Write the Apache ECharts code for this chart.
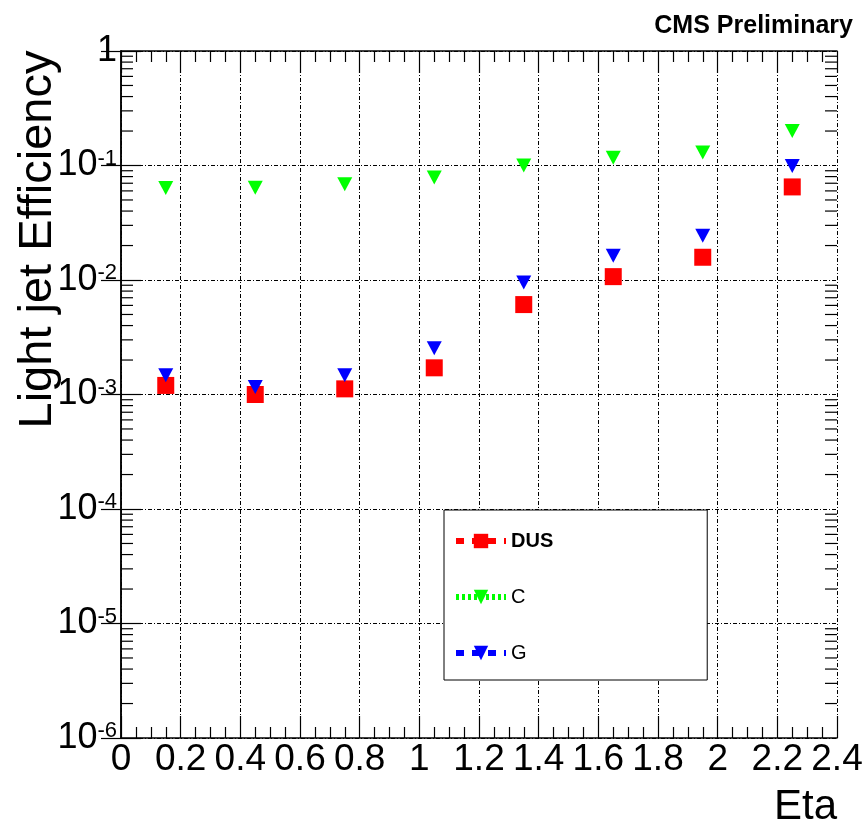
<!DOCTYPE html>
<html>
<head>
<meta charset="utf-8">
<script src="https://cdn.jsdelivr.net/npm/echarts@6/dist/echarts.min.js"></script>
<style>
html,body{margin:0;padding:0;background:#fff;}
#chart{width:867px;height:834px;}
</style>
</head>
<body>
<div id="chart"></div>
<script>
// ---- data ----
const etaBins = [0.15, 0.45, 0.75, 1.05, 1.35, 1.65, 1.95, 2.25];
const dusEff = [1.2e-3, 1.0e-3, 1.12e-3, 1.71e-3, 6.1e-3, 1.07e-2, 1.58e-2, 6.5e-2];
const cEff   = [6.35e-2, 6.4e-2, 6.87e-2, 7.85e-2, 1.0e-1, 1.17e-1, 1.30e-1, 2.0e-1];
const gEff   = [1.47e-3, 1.16e-3, 1.47e-3, 2.53e-3, 9.5e-3, 1.63e-2, 2.44e-2, 9.9e-2];
const seriesNames = ['DUS', 'C', 'G'];
const xTicks = [0, 0.2, 0.4, 0.6, 0.8, 1, 1.2, 1.4, 1.6, 1.8, 2, 2.2, 2.4];
const yDecades = [-6, -5, -4, -3, -2, -1, 0];
const minorMultipliers = [2, 3, 4, 5, 6, 7, 8, 9];

const FONT = 'Liberation Sans, Arial, Helvetica, sans-serif';

const pairs = (xs, ys) => xs.map((x, i) => [x, ys[i]]);
const minorTickData = [];
yDecades.slice(0, -1).forEach(d => minorMultipliers.forEach(m => minorTickData.push([0, m * Math.pow(10, d)])));

const gridLine = { show: true, lineStyle: { color: '#000', width: 1, type: [4, 2, 1, 2] } };

function yLabel(v) {
  const e = Math.round(Math.log10(v));
  if (e === 0) return '{a|1}';
  return '{a|10}{b|' + e + '}';
}

const chart = echarts.init(document.getElementById('chart'), null, { renderer: 'canvas' });
chart.setOption({
  animation: false,
  backgroundColor: '#fff',
  title: {
    text: 'CMS Preliminary',
    right: 9, top: 9,
    textStyle: { fontFamily: FONT, fontSize: 25, fontWeight: 'bold', color: '#000' }
  },
  grid: { left: 121, right: 30, top: 51, bottom: 96, containLabel: false, outerBoundsMode: 'none' },
  xAxis: [{
    type: 'value', min: 0, max: 2.4, interval: 0.2,
    name: 'Eta', nameLocation: 'end', nameGap: 0, nameMoveOverlap: false,
    nameTextStyle: { fontFamily: FONT, fontSize: 42, color: '#000', align: 'right', verticalAlign: 'top', padding: [48, 0, 0, 0] },
    axisLine: { show: true, lineStyle: { color: '#000', width: 1.5 } },
    axisTick: { show: true, inside: true, length: 22, lineStyle: { color: '#000', width: 1.2 } },
    minorTick: { show: true, splitNumber: 4, length: 11, lineStyle: { color: '#000', width: 1.2 } },
    axisLabel: {
      fontFamily: FONT, fontSize: 37, color: '#000', margin: 3, hideOverlap: false,
      formatter: v => String(parseFloat(v.toFixed(1)))
    },
    splitLine: gridLine
  }, {
    type: 'value', min: 0, max: 2.4, interval: 0.2, position: 'top',
    axisLine: { show: true, lineStyle: { color: '#000', width: 1.5 } },
    axisTick: { show: true, inside: true, length: 22, lineStyle: { color: '#000', width: 1.2 } },
    minorTick: { show: true, splitNumber: 4, length: 11, lineStyle: { color: '#000', width: 1.2 } },
    axisLabel: { show: false },
    splitLine: { show: false }
  }],
  yAxis: [{
    type: 'log', logBase: 10, min: 1e-6, max: 1, splitNumber: 6,
    name: 'Light jet Efficiency', nameLocation: 'middle', nameGap: 59, nameMoveOverlap: false,
    nameTextStyle: { fontFamily: FONT, fontSize: 47, color: '#000', padding: [0, 0, 0, 310] },
    axisLine: { show: true, lineStyle: { color: '#000', width: 1.5 } },
    axisTick: { show: true, inside: true, length: 20, lineStyle: { color: '#000', width: 1.2 } },
    axisLabel: {
      margin: 4, formatter: yLabel,
      rich: {
        a: { fontFamily: FONT, fontSize: 36, color: '#000', lineHeight: 36 },
        b: { fontFamily: FONT, fontSize: 22, color: '#000', verticalAlign: 'top', lineHeight: 22 }
      }
    },
    splitLine: gridLine
  }, {
    type: 'log', logBase: 10, min: 1e-6, max: 1, splitNumber: 6, position: 'right',
    axisLine: { show: true, lineStyle: { color: '#000', width: 1.5 } },
    axisTick: { show: true, inside: true, length: 20, lineStyle: { color: '#000', width: 1.2 } },
    axisLabel: { show: false },
    splitLine: { show: false }
  }],
  legend: {
    orient: 'vertical',
    left: 444, top: 510,
    padding: [21, 154, 17, 9],
    itemGap: 36,
    itemWidth: 50, itemHeight: 18,
    backgroundColor: '#fff',
    borderColor: '#000', borderWidth: 1, borderRadius: 0,
    textStyle: { fontFamily: FONT, fontSize: 20, color: '#000', lineHeight: 18 },
    data: [
      { name: 'DUS', textStyle: { fontWeight: 'bold' }, lineStyle: { color: '#ff0000', width: 6, type: [8, 8], opacity: 1 } },
      { name: 'C', lineStyle: { color: '#00ff00', width: 6, type: [3, 3], opacity: 1 } },
      { name: 'G', lineStyle: { color: '#0000ff', width: 6, type: [8, 8], opacity: 1 } }
    ]
  },
  series: [
    {
      type: 'custom', name: 'minorTicks', silent: true,
      renderItem: (params, api) => {
        const v = api.value(1);
        const p = api.coord([0, v]);
        const q = api.coord([2.4, v]);
        const st = { stroke: '#000', lineWidth: 1.2 };
        return { type: 'group', children: [
          { type: 'line', shape: { x1: p[0], y1: p[1], x2: p[0] + 12, y2: p[1] }, style: st },
          { type: 'line', shape: { x1: q[0] - 12, y1: q[1], x2: q[0], y2: q[1] }, style: st }
        ] };
      },
      data: minorTickData, z: 3
    },
    {
      name: seriesNames[0], type: 'line', data: pairs(etaBins, dusEff),
      symbol: 'rect', symbolSize: 17, showSymbol: true,
      itemStyle: { color: '#ff0000' },
      lineStyle: { opacity: 0, width: 0 }, z: 4
    },
    {
      name: seriesNames[1], type: 'line', data: pairs(etaBins, cEff),
      symbol: 'triangle', symbolRotate: 180, symbolSize: [15, 14], showSymbol: true,
      itemStyle: { color: '#00ff00' },
      lineStyle: { opacity: 0, width: 0 }, z: 5
    },
    {
      name: seriesNames[2], type: 'line', data: pairs(etaBins, gEff),
      symbol: 'triangle', symbolRotate: 180, symbolSize: [15, 14], showSymbol: true,
      itemStyle: { color: '#0000ff' },
      lineStyle: { opacity: 0, width: 0 }, z: 6
    }
  ]
});
</script>
</body>
</html>
